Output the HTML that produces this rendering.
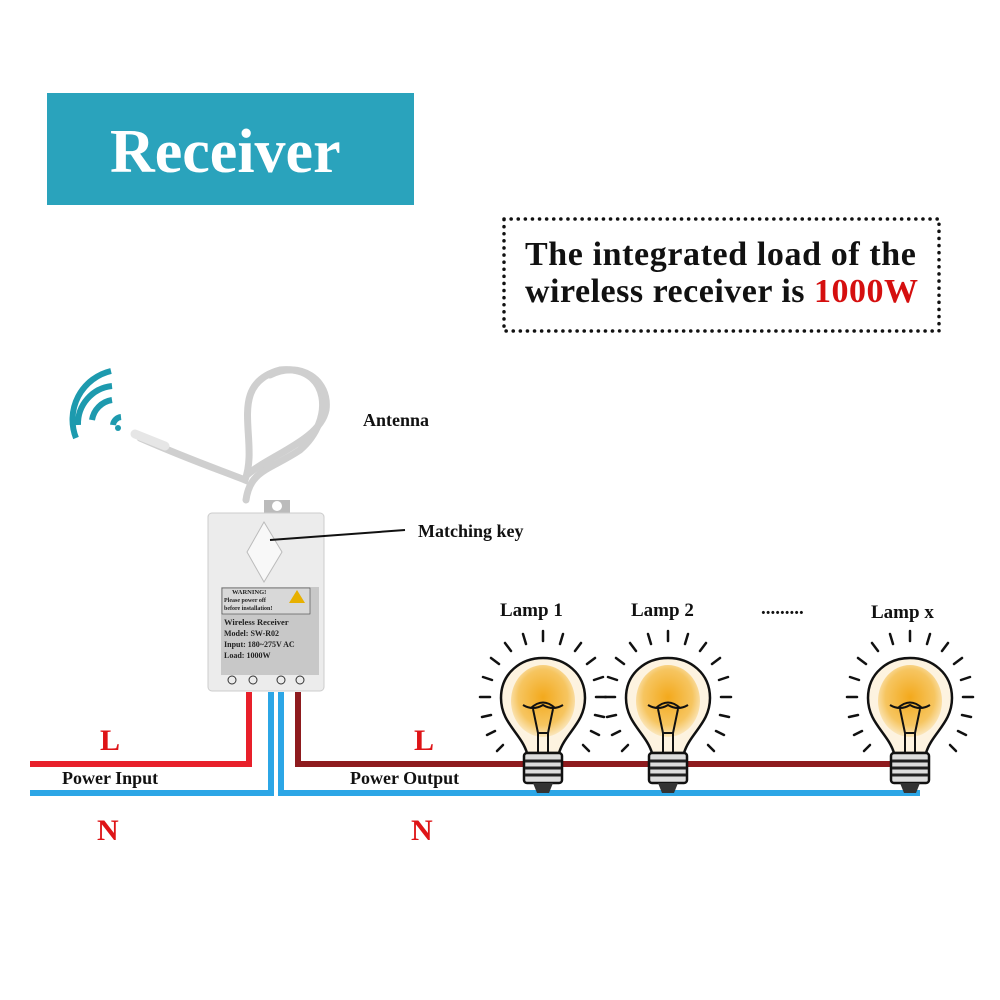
<!DOCTYPE html>
<html><head><meta charset="utf-8"><style>
html,body{margin:0;padding:0;background:#fff}
svg{display:block}
text{font-family:"Liberation Serif",serif;font-weight:bold}
</style></head><body>
<svg width="1000" height="1000" viewBox="0 0 1000 1000" xmlns="http://www.w3.org/2000/svg">
<defs>
<radialGradient id="glow" cx="0.5" cy="0.45" r="0.55">
<stop offset="0" stop-color="#f3a91c"/><stop offset="0.7" stop-color="#f6c560"/><stop offset="1" stop-color="#fbe7bd"/>
</radialGradient>
<g id="bulb">
<g stroke="#111" stroke-width="2.5" stroke-linecap="round">
<line x1="0" y1="-82" x2="0" y2="-72"/><line x1="-20" y1="-79" x2="-17" y2="-69"/><line x1="20" y1="-79" x2="17" y2="-69"/>
<line x1="-38" y1="-70" x2="-32" y2="-62"/><line x1="38" y1="-70" x2="32" y2="-62"/>
<line x1="-52" y1="-55" x2="-44" y2="-49"/><line x1="52" y1="-55" x2="44" y2="-49"/>
<line x1="-60" y1="-36" x2="-51" y2="-33"/><line x1="60" y1="-36" x2="51" y2="-33"/>
<line x1="-63" y1="-16" x2="-53" y2="-16"/><line x1="63" y1="-16" x2="53" y2="-16"/>
<line x1="-61" y1="4" x2="-52" y2="2"/><line x1="61" y1="4" x2="52" y2="2"/>
<line x1="-56" y1="22" x2="-48" y2="18"/><line x1="56" y1="22" x2="48" y2="18"/>
<line x1="-46" y1="38" x2="-40" y2="32"/><line x1="46" y1="38" x2="40" y2="32"/>
</g>
<path d="M-16 40 C-22 20 -42 10 -42 -15 C-42 -40 -22 -55 0 -55 C22 -55 42 -40 42 -15 C42 10 22 20 16 40 Z" fill="#fdf3e0" stroke="#111" stroke-width="2.5"/>
<ellipse cx="0" cy="-12" rx="32" ry="36" fill="url(#glow)"/>
<g stroke="#111" stroke-width="2" fill="none">
<path d="M-20 -8 Q-10 -2 0 -8 Q10 -2 20 -8"/><path d="M-12 -5 Q0 -16 12 -5"/>
<path d="M-10 -4 L-5 20 L-5 40 M10 -4 L5 20 L5 40 M-5 20 H5"/>
</g>
<rect x="-19" y="40" width="38" height="30" rx="3" fill="#ddd" stroke="#111" stroke-width="2.5"/>
<g stroke="#222" stroke-width="3"><line x1="-18" y1="48" x2="18" y2="48"/><line x1="-18" y1="55" x2="18" y2="55"/><line x1="-18" y1="62" x2="18" y2="62"/></g>
<path d="M-10 70 L-6 80 H6 L10 70 Z" fill="#333"/>
</g>
</defs>

<rect x="47" y="93" width="367" height="112" fill="#2aa3bc"/>
<text x="110" y="172" font-size="62" fill="#fff">Receiver</text>

<rect x="504" y="219" width="435" height="112" fill="none" stroke="#111" stroke-width="3.5" stroke-dasharray="0.1 7" stroke-linecap="round"/>
<text x="525" y="265" font-size="34" fill="#111" letter-spacing="0.6">The integrated load of the</text>
<text x="525" y="302" font-size="34" fill="#111" letter-spacing="0.5">wireless receiver is <tspan fill="#d50f0f">1000W</tspan></text>

<!-- wifi -->
<g fill="none" stroke="#1d9aae" stroke-width="6" stroke-linecap="butt">
<path d="M121 417 A9 9 0 0 0 113 425"/>
<path d="M112 400 A24 24 0 0 0 92 420"/>
<path d="M112 386 A38 38 0 0 0 78 425"/>
<path d="M111 371 A50 50 0 0 0 76 438"/>
</g>
<circle cx="118" cy="428" r="3" fill="#1d9aae"/>

<!-- antenna cable -->
<g fill="none" stroke="#cfcfcf" stroke-width="7" stroke-linecap="round">
<path d="M140 438 C190 460 220 470 245 480 C260 440 225 385 280 370 C330 365 335 420 300 450 C270 470 250 470 246 500"/>
<path d="M247 475 C270 455 320 440 326 410 C330 380 300 360 270 375"/>
</g>
<path d="M135 434 L165 446" stroke="#e6e6e6" stroke-width="9" stroke-linecap="round"/>
<text x="363" y="426" font-size="18" fill="#111">Antenna</text>

<!-- device -->
<path d="M264 500 h26 v16 h-26z" fill="#bbb"/>
<circle cx="277" cy="506" r="5" fill="#fff"/>
<rect x="208" y="513" width="116" height="178" rx="4" fill="#ececec" stroke="#ccc"/>
<path d="M264 522 L282 552 L264 582 L247 552 Z" fill="#f8f8f8" stroke="#bbb"/>
<line x1="270" y1="540" x2="405" y2="530" stroke="#111" stroke-width="2"/>
<text x="418" y="537" font-size="18" fill="#111">Matching key</text>
<rect x="221" y="587" width="98" height="88" fill="#c8c8c8"/>
<rect x="222" y="588" width="88" height="26" fill="#d8d8d8" stroke="#444" stroke-width="0.6"/>
<text x="232" y="594" font-size="6.5" font-weight="normal" fill="#222">WARNING!</text>
<text x="224" y="602" font-size="6" font-weight="normal" fill="#222">Please power off</text>
<text x="224" y="610" font-size="6" font-weight="normal" fill="#222">before installation!</text>
<path d="M297 590 L305 603 L289 603 Z" fill="#e7b000"/>
<g font-family="Liberation Sans" font-weight="normal" fill="#222">
<text x="224" y="625" font-size="8.5" font-weight="bold" font-family="Liberation Sans">Wireless Receiver</text>
<text x="224" y="636" font-size="8">Model: SW-R02</text>
<text x="224" y="647" font-size="8">Input: 180~275V AC</text>
<text x="224" y="658" font-size="8">Load: 1000W</text>
</g>
<g fill="none" stroke="#333" stroke-width="1"><circle cx="232" cy="680" r="4"/><circle cx="253" cy="680" r="4"/><circle cx="281" cy="680" r="4"/><circle cx="300" cy="680" r="4"/></g>

<!-- wires -->
<g fill="none" stroke-width="6">
<path d="M30 764 H249 V692" stroke="#e8202a"/>
<path d="M30 793 H271 V692" stroke="#2ca6e6"/>
<path d="M281 692 V793 H920" stroke="#2ca6e6"/>
<path d="M298 692 V764 H918" stroke="#8e1b1e"/>
</g>

<g font-size="30" fill="#de1417">
<text x="100" y="750">L</text><text x="97" y="840">N</text>
<text x="414" y="750">L</text><text x="411" y="840">N</text>
</g>
<text x="62" y="784" font-size="18" fill="#111">Power Input</text>
<text x="350" y="784" font-size="18" fill="#111">Power Output</text>

<use href="#bulb" x="543" y="713"/>
<use href="#bulb" x="668" y="713"/>
<use href="#bulb" x="910" y="713"/>

<text x="500" y="616" font-size="19" fill="#111">Lamp 1</text>
<text x="631" y="616" font-size="19" fill="#111">Lamp 2</text>
<text x="761" y="614" font-size="19" fill="#111">.........</text>
<text x="871" y="618" font-size="19" fill="#111">Lamp x</text>
</svg>
</body></html>
